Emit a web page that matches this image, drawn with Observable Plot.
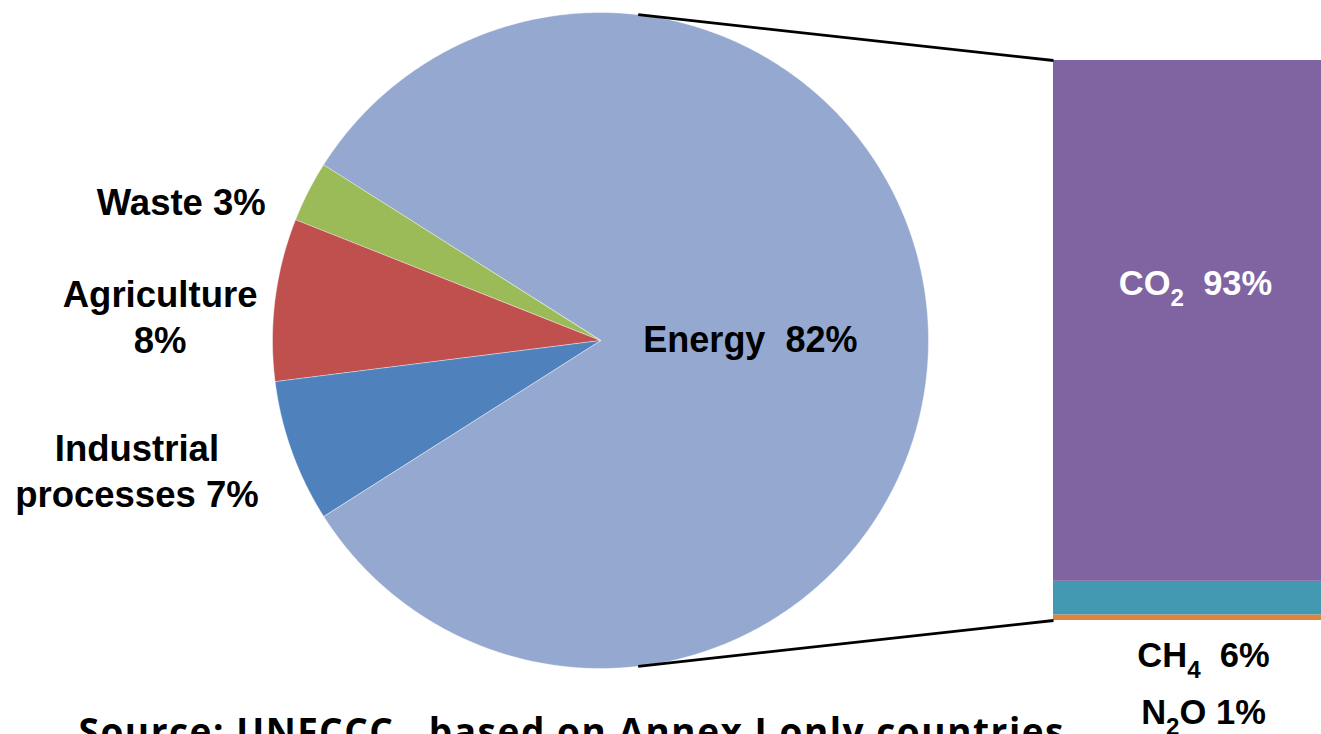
<!DOCTYPE html>
<html>
<head>
<meta charset="utf-8">
<script src="https://cdn.jsdelivr.net/npm/d3@7"></script>
<script src="https://cdn.jsdelivr.net/npm/@observablehq/plot@0.6"></script>
<style>
  html, body { margin: 0; padding: 0; background: #fff; overflow: hidden; }
  #chart { width: 1321px; height: 734px; }
</style>
</head>
<body>
<div id="chart"></div>
<script>
// Greenhouse gas emissions by sector, with the energy sector broken down by gas
const sectors = ["Energy", "Waste", "Agriculture", "Industrial processes"];
const sectorShares = [82, 3, 8, 7];
const sectorLabels = ["Energy  82%", "Waste 3%", "Agriculture\n8%", "Industrial\nprocesses 7%"];

const gases = ["N2O", "CH4", "CO2"];
const gasShares = [1, 6, 93];
const gasLabels = ["N₂O 1%", "CH₄  6%", "CO₂  93%"];

const sourceNote = "Source: UNFCCC , based on Annex I only countries";

// Colours
const sectorColors = ["#95a9d0", "#9bbb59", "#c0504d", "#4f81bd"];
const gasColors = ["#e0843d", "#4399b1", "#8064a2"];

// Frame geometry: one unit on both scales equals the pie radius
const W = 1321, H = 734, R = 328, CX = 600, CY = 340;
const xDomain = [-CX / R, (W - CX) / R];
const yDomain = [-(H - CY) / R, CY / R];
const px = (v) => v / R;

// Pie slices: energy centred on the right, the rest stacked counter-clockwise
const total = d3.sum(sectorShares);
let angle = -sectorShares[0] / total * 180;
const slices = sectors.map((sector, i) => {
  const a0 = angle, a1 = angle + sectorShares[i] / total * 360;
  angle = a1;
  return {sector, a0, a1, mid: (a0 + a1) / 2, label: sectorLabels[i]};
});
const rad = (d) => d * Math.PI / 180;
const slicePoints = slices.flatMap((s) => {
  const n = Math.max(2, Math.ceil((s.a1 - s.a0) / 0.5));
  const pts = [{sector: s.sector, x: 0, y: 0}];
  for (let k = 0; k <= n; ++k) {
    const t = rad(s.a0 + (s.a1 - s.a0) * k / n);
    pts.push({sector: s.sector, x: Math.cos(t), y: Math.sin(t)});
  }
  return pts;
});

// Label placement for the small outer slices (pixel offsets from the rim midpoint)
const outerOffsets = {
  "Waste": [-127, 9],
  "Agriculture": [-115, 16],
  "Industrial processes": [-155, 18]
};
const outerLabels = slices.filter((s) => s.sector !== "Energy").map((s) => ({
  label: s.label,
  x: Math.cos(rad(s.mid)) + px(outerOffsets[s.sector][0]),
  y: Math.sin(rad(s.mid)) - px(outerOffsets[s.sector][1])
}));
const energy = slices[0];
const innerLabel = [{label: energy.label, x: 0.457 * Math.cos(rad(energy.mid)), y: 0.457 * Math.sin(rad(energy.mid))}];

// Stacked bar for the energy sector's gases
const barLeft = px(453), barRight = barLeft + px(360), barHalf = px(280);
const gasTotal = d3.sum(gasShares);
let cum = 0;
const barRows = gases.map((gas, i) => {
  const y1 = -barHalf + cum / gasTotal * 2 * barHalf;
  cum += gasShares[i];
  const y2 = -barHalf + cum / gasTotal * 2 * barHalf;
  return {gas, y1, y2, label: gasLabels[i]};
});

// Connector lines from the top and bottom of the energy slice to the bar
const connectAngle = 83.4;
const connectors = [1, -1].map((s) => ({
  x1: Math.cos(rad(connectAngle)), y1: s * Math.sin(rad(connectAngle)),
  x2: barLeft, y2: s * barHalf
}));

// Bar labels: CO2 inside the bar, the thin segments listed beneath it
const barMidX = barLeft + px(144);
const gasLabelRows = [
  {label: gasLabels[2], x: barMidX - px(2), y: px(CY - 283)},
  {label: gasLabels[1], x: barMidX + px(6), y: px(CY - 655)},
  {label: gasLabels[0], x: barMidX + px(6), y: px(CY - 712)}
];

const font = "'Liberation Sans', Arial, Helvetica, sans-serif";

const chart = Plot.plot({
  width: W,
  height: H,
  margin: 0,
  x: {domain: xDomain, axis: null},
  y: {domain: yDomain, axis: null},
  color: {domain: [...sectors, ...gases], range: [...sectorColors, ...gasColors]},
  style: {fontFamily: font, background: "#fff"},
  marks: [
    Plot.line(slicePoints, {
      x: "x", y: "y", z: "sector", fill: "sector",
      stroke: "#ffffff", strokeWidth: 0.6, strokeOpacity: 0.7,
      curve: "linear-closed"
    }),
    Plot.rect(barRows, {x1: barLeft, x2: barRight, y1: "y1", y2: "y2", fill: "gas", clip: true}),
    Plot.link(connectors, {x1: "x1", y1: "y1", x2: "x2", y2: "y2", stroke: "#000", strokeWidth: 2.8}),
    Plot.text(innerLabel, {x: "x", y: "y", text: "label", fontSize: 36, fontWeight: "bold", fill: "#000"}),
    Plot.text(outerLabels, {x: "x", y: "y", text: "label", fontSize: 36.5, fontWeight: "bold", fill: "#000", lineHeight: 1.25}),
    Plot.text(gasLabelRows, {x: "x", y: "y", text: "label", fontSize: 34.5, fontWeight: "bold",
      fill: (d) => d.label === gasLabels[2] ? "#ffffff" : "#000000"}),
    Plot.text([sourceNote], {
      frameAnchor: "bottom", text: (d) => d, dx: -90, dy: 10.5,
      lineAnchor: "bottom", fontSize: 37, fontWeight: "bold", fill: "#000",
      fontFamily: "'Open Sans', Lato, sans-serif"
    })
  ]
});

// Typeset chemical formulas with lowered subscript digits
const subDigits = "₀₁₂₃₄₅₆₇₈₉";
d3.select(chart).selectAll("text").each(function () {
  const el = d3.select(this);
  const s = this.textContent;
  if (this.children.length || !/[₀-₉]/.test(s)) return;
  el.text(null);
  let shifted = false;
  for (const ch of s) {
    const i = subDigits.indexOf(ch);
    if (i >= 0) {
      el.append("tspan").attr("font-size", "70%").attr("dy", "11").text(String(i));
      shifted = true;
    } else {
      const t = el.append("tspan").text(ch);
      if (shifted) { t.attr("dy", "-11"); shifted = false; }
    }
  }
});

// Stretch the source note to its full line width
d3.select(chart).selectAll("text")
  .filter(function () { return this.textContent === sourceNote; })
  .attr("textLength", 985)
  .attr("lengthAdjust", "spacing");

document.getElementById("chart").appendChild(chart);
</script>
</body>
</html>
